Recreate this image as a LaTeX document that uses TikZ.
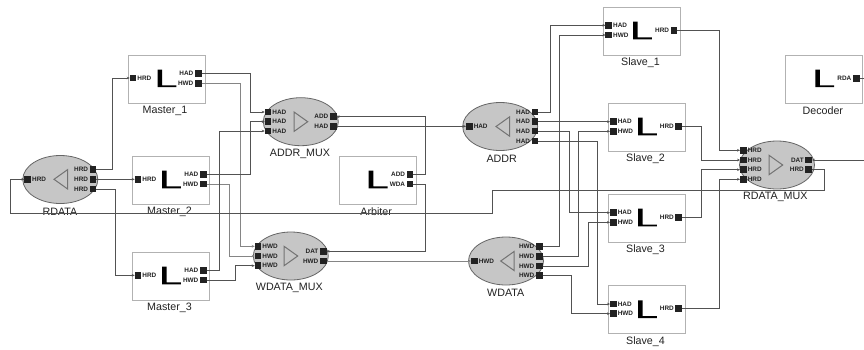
\documentclass[tikz,border=0pt]{standalone}
\usepackage{fontspec}
\setmainfont{Liberation Sans}
\usetikzlibrary{arrows.meta,shapes.geometric}
\definecolor{ovalfill}{HTML}{C6C6C6}
\definecolor{ink}{HTML}{222222}
\tikzset{
  port/.style={draw=none,fill=ink,minimum size=6.5pt,inner sep=0pt,outer sep=0pt},
  plabel/.style={font=\fontsize{6.4}{7}\selectfont\bfseries,text=ink,inner sep=0pt},
  blockname/.style={font=\fontsize{10.7}{12}\selectfont,text=ink,inner sep=0pt},
  blockbox/.style={draw=black!30,line width=1pt,fill=white,minimum width=77pt,minimum height=48pt,inner sep=0pt,anchor=north west},
  oval/.style={ellipse,draw=black!60,line width=0.8pt,fill=ovalfill,minimum width=75pt,minimum height=48pt,inner sep=0pt},
  glyph/.style={fill=black,draw=none},
  tri/.style={draw=black!55,line width=1pt,line join=miter},
  wire/.style={draw=black!68,line width=0.75pt,-{Stealth[length=3pt,width=2.6pt]}},
  lightwire/.style={wire,draw=black!48,line width=0.95pt}
}
\newcommand{\blk}[4]{%
  \node[blockbox] (#1) at (#2,#3) {};
  \fill[glyph] ([shift={(30,15)}]#1.north west) -- ++(4.6,0) -- ++(0,15.8) -- ++(14.2,0) -- ++(0,1.9) -- ++(-18.8,0) -- cycle;
  \node[blockname] (#1name) at ([shift={(37.5,56.4)}]#1.north west) {#4};
}
\newcommand{\ovl}[6]{%
  \node[oval] (#1) at (#2,#3) {};
  \node[blockname] (#1name) at (#5,#6) {#4};
}
\newcommand{\triR}[2]{\draw[tri] (#1-13.5,#2-9.6) -- (#1,#2) -- (#1-13.5,#2+9.6) -- cycle;}
\newcommand{\triL}[2]{\draw[tri] (#1+13.5,#2-9.6) -- (#1,#2) -- (#1+13.5,#2+9.6) -- cycle;}
\newcommand{\pl}[4]{%
  \node[port] (#1) at (#2,#3) {};
  \node[plabel,anchor=west] (#1t) at ([xshift=1pt]#1.east) {#4};
}
\newcommand{\pr}[4]{%
  \node[port] (#1) at (#2,#3) {};
  \node[plabel,anchor=east] (#1t) at ([xshift=-1.5pt]#1.west) {#4};
}
\begin{document}
\begin{tikzpicture}[x=1pt,y=-1pt]
\path[use as bounding box,fill=white] (0,0) rectangle (864,349);
% blocks
\blk{mone}{127.5}{54.5}{Master\_1}
\pl{mor}{133}{78}{HRD}\pr{moa}{198.3}{73.3}{HAD}\pr{mow}{198.3}{83.3}{HWD}
\blk{mtwo}{132}{155.6}{Master\_2}
\pl{mtr}{138}{179.3}{HRD}\pr{mta}{203.3}{174.3}{HAD}\pr{mtw}{203.3}{184}{HWD}
\blk{mthree}{132}{251.6}{Master\_3}
\pl{mhr}{138}{275.3}{HRD}\pr{mha}{203.3}{270.7}{HAD}\pr{mhw}{203.3}{280}{HWD}
\blk{arb}{338.7}{155.6}{Arbiter}
\pr{arba}{410}{174.3}{ADD}\pr{arbw}{410}{184}{WDA}
\blk{sone}{603}{6.6}{Slave\_1}
\pl{soa}{608.7}{25.3}{HAD}\pl{sow}{608.7}{35}{HWD}\pr{sor}{674}{30.3}{HRD}
\blk{stwo}{608}{102.6}{Slave\_2}
\pl{sta}{613.3}{121.7}{HAD}\pl{stw}{613.3}{131.3}{HWD}\pr{str}{678.7}{126.3}{HRD}
\blk{sthree}{608}{193.7}{Slave\_3}
\pl{sha}{613.3}{212.7}{HAD}\pl{shw}{613.3}{222.3}{HWD}\pr{shr}{678.7}{217.7}{HRD}
\blk{sfour}{608}{285.3}{Slave\_4}
\pl{sfa}{613.3}{304}{HAD}\pl{sfw}{613.3}{313.7}{HWD}\pr{sfr}{678.7}{308.7}{HRD}
\blk{dec}{785.3}{54.5}{Decoder}
\pr{decr}{856.3}{78.3}{RDA}
% ovals
\ovl{rdata}{60.3}{179.5}{RDATA}{60}{211.7}
\triL{54}{179.3}
\pl{rdi}{27.7}{179.3}{HRD}\pr{rdo}{93}{169.3}{HRD}\pr{rdt}{93}{179.3}{HRD}\pr{rdh}{93}{189}{HRD}
\ovl{amux}{300.8}{121.7}{ADDR\_MUX}{300}{154}
\triR{307.7}{121.7}
\pl{amo}{268}{112}{HAD}\pl{amt}{268}{121.7}{HAD}\pl{amh}{268}{131}{HAD}
\pr{amd}{333.3}{116.7}{ADD}\pr{amr}{333.3}{126.3}{HAD}
\ovl{wmux}{290.8}{256}{WDATA\_MUX}{289.3}{288.3}
\triR{297.7}{256}
\pl{wmo}{258}{246.3}{HWD}\pl{wmt}{258}{256}{HWD}\pl{wmh}{258}{265.7}{HWD}
\pr{wmd}{323.3}{251.3}{DAT}\pr{wmr}{323.3}{261}{HWD}
\ovl{addr}{500.2}{126.5}{ADDR}{501.7}{158.7}
\triL{496}{126.5}
\pl{adi}{469.3}{126.3}{HAD}
\pr{ado}{535}{112}{HAD}\pr{adt}{535}{121.7}{HAD}\pr{adh}{535}{131}{HAD}\pr{adf}{535}{141}{HAD}
\ovl{wdata}{506}{261}{WDATA}{505.7}{292.7}
\triL{500.7}{261}
\pl{wdi}{474.3}{261}{HWD}
\pr{wdo}{539.3}{246.7}{HWD}\pr{wdt}{539.3}{256.3}{HWD}\pr{wdh}{539.3}{266}{HWD}\pr{wdf}{539.3}{275.3}{HWD}
\ovl{rmux}{777}{165}{RDATA\_MUX}{775.3}{197}
\triR{782.7}{165}
\pl{rmo}{743.3}{150.3}{HRD}\pl{rmt}{743.3}{160}{HRD}\pl{rmh}{743.3}{169.7}{HRD}\pl{rmf}{743.3}{179.3}{HRD}
\pr{rmd}{808.7}{160}{DAT}\pr{rmr}{808.7}{169.7}{HRD}
% free ends and feedback corners
\coordinate (edgeA) at (864,78.3);
\coordinate (edgeB) at (864,160);
\coordinate (fbA) at (492.3,190.7);
\coordinate (fbB) at (492.3,213.3);
\coordinate (fbC) at (10.3,213.3);
% wires
\draw[wire] (rdo.east) -- ++(16.5,0) |- (mor.west);
\draw[wire] (rdt.east) -- (mtr.west);
\draw[wire] (rdh.east) -- ++(19,0) |- (mhr.west);
\draw[wire] (moa.east) -- ++(49.2,0) |- (amo.west);
\draw[lightwire] (mow.east) -- ++(39.2,0) |- (wmo.west);
\draw[wire] (mta.east) -- ++(44.2,0) |- (amt.west);
\draw[lightwire] (mtw.east) -- ++(22.8,0) |- (wmt.west);
\draw[wire] (mha.east) -- ++(12.8,0) |- (amh.west);
\draw[wire] (mhw.east) -- ++(29.2,0) |- (wmh.west);
\draw[wire] (rmr.east) -- ++(12.3,0) |- (fbA) -- (fbB) -- (fbC) |- (rdi.west);
\draw[wire] (arba.east) -- ++(12,0) |- (amd.east);
\draw[wire] (arbw.east) -- ++(12,0) |- (wmd.east);
\draw[wire] (amr.east) -- (adi.west);
\draw[lightwire] (wmr.east) -- (wdi.west);
\draw[wire] (ado.east) -- ++(11.75,0) |- (soa.west);
\draw[wire] (adt.east) -- (sta.west);
\draw[wire] (adh.east) -- ++(31.45,0) |- (sha.west);
\draw[wire] (adf.east) -- ++(59.45,0) |- (sfa.west);
\draw[wire] (wdo.east) -- ++(17.15,0) |- (sow.west);
\draw[wire] (wdt.east) -- ++(36.15,0) |- (stw.west);
\draw[wire] (wdh.east) -- ++(45.75,0) |- (shw.west);
\draw[wire] (wdf.east) -- ++(28.75,0) |- (sfw.west);
\draw[wire] (sor.east) -- ++(42.05,0) |- (rmo.west);
\draw[wire] (str.east) -- ++(19.75,0) |- (rmt.west);
\draw[wire] (shr.east) -- ++(19.75,0) |- (rmh.west);
\draw[wire] (sfr.east) -- ++(37.35,0) |- (rmf.west);
\draw[wire,-] (decr.east) -- (edgeA);
\draw[wire] (edgeB) -- (rmd.east);
\end{tikzpicture}
\end{document}
